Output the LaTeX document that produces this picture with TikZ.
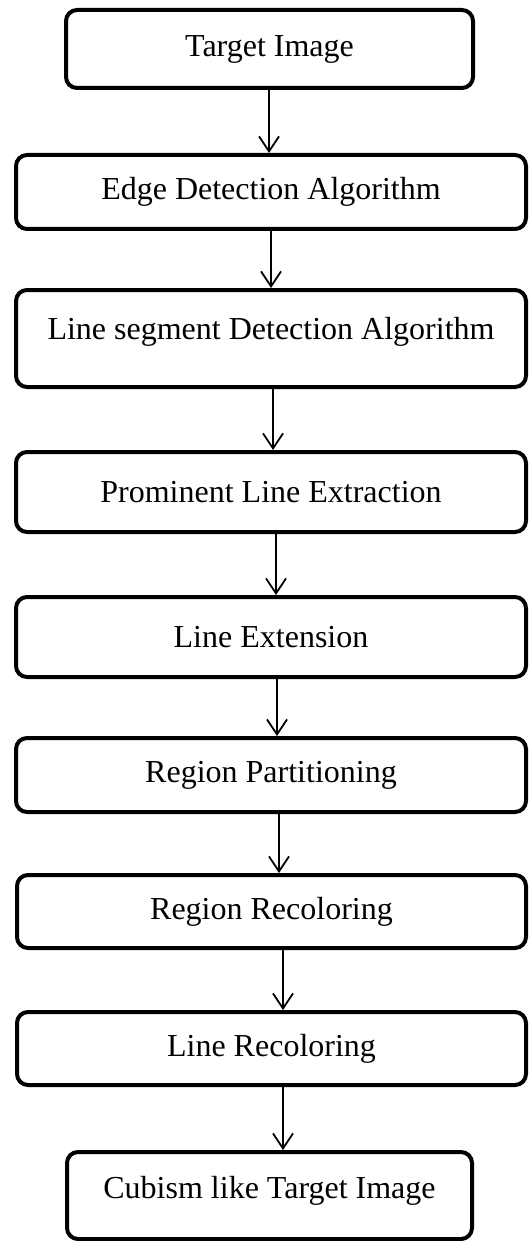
\documentclass[tikz,border=0pt]{standalone}
\usepackage{fontspec}
\setmainfont{Liberation Serif}
\usetikzlibrary{positioning,arrows.meta}

\begin{document}
\begin{tikzpicture}[x=1pt,y=-1pt,->,>={Straight Barb[length=15pt,width=20pt]},line width=1.8pt]

  \tikzstyle{stepbox}=[draw,-,rectangle,rounded corners=11pt,line width=4pt,inner sep=0pt,align=center,font=\fontsize{32}{38}\selectfont]

  \useasboundingbox (0,0) rectangle (528,1241);

  % steps
  \node[stepbox,minimum width=407pt,minimum height=78pt] (img) at (269.5,49) {Target Image};
  \node[stepbox,minimum width=510pt,minimum height=74pt] (edge) at (271,192) {Edge Detection Algorithm};
  \node[stepbox,minimum width=510pt,minimum height=97pt,text depth=20pt] (lsd) at (271,338.5) {Line segment Detection Algorithm};
  \node[stepbox,minimum width=510pt,minimum height=80pt] (prom) at (271,492) {Prominent Line Extraction};
  \node[stepbox,minimum width=510pt,minimum height=80pt] (ext) at (271,637) {Line Extension};
  \node[stepbox,minimum width=510pt,minimum height=74pt] (part) at (271,775) {Region Partitioning};
  \node[stepbox,minimum width=509pt,minimum height=73pt] (rcol) at (271.5,911.5) {Region Recoloring};
  \node[stepbox,minimum width=509pt,minimum height=73pt] (lcol) at (271.5,1048.5) {Line Recoloring};
  \node[stepbox,minimum width=405pt,minimum height=87pt,text depth=16pt] (cub) at (269.5,1195.5) {Cubism like Target Image};

  % arrows
  \draw ([xshift=-0.5pt]img.south) -- ([xshift=-2pt]edge.north);
  \draw (edge.south) -- (lsd.north);
  \draw ([xshift=2pt]lsd.south) -- ([xshift=2pt]prom.north);
  \draw ([xshift=5pt]prom.south) -- ([xshift=5pt]ext.north);
  \draw ([xshift=6pt]ext.south) -- ([xshift=6pt]part.north);
  \draw ([xshift=8pt]part.south) -- ([xshift=7.5pt]rcol.north);
  \draw ([xshift=11.5pt]rcol.south) -- ([xshift=11.5pt]lcol.north);
  \draw ([xshift=11.5pt]lcol.south) -- ([xshift=13.5pt]cub.north);

\end{tikzpicture}
\end{document}
